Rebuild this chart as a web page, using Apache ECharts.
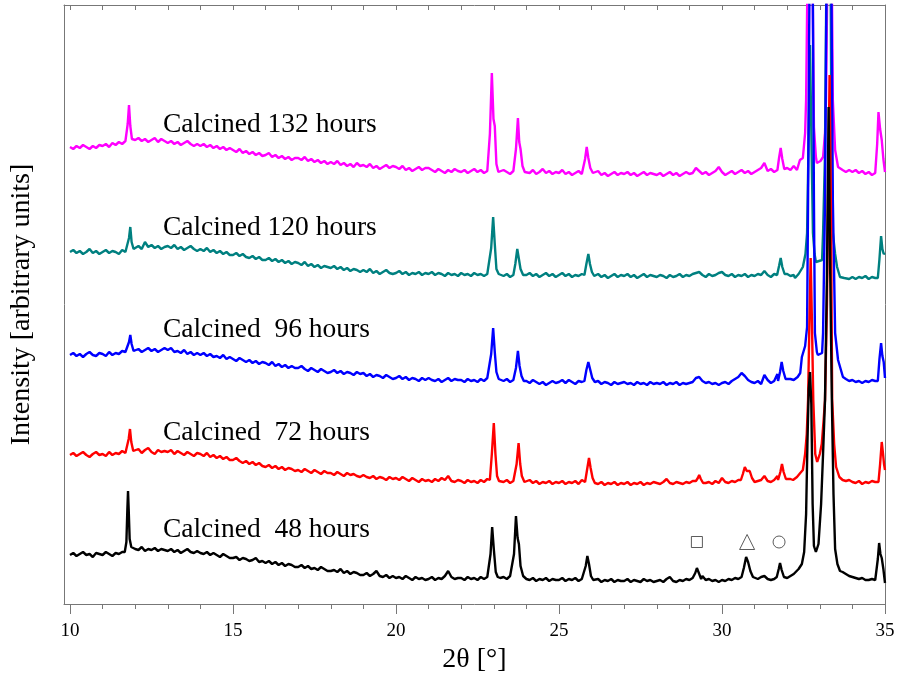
<!DOCTYPE html>
<html>
<head>
    <meta charset="utf-8">
    <title>XRD</title>
    <script src="https://cdn.jsdelivr.net/npm/echarts@6/dist/echarts.min.js"></script>
    <style>
        html, body { margin: 0; padding: 0; background: #fff; }
        #main { width: 899px; height: 684px; }
    </style>
</head>
<body>
<div id="main"></div>
<script type="text/javascript">
// grid of 2theta: 10.0 .. 35.0 step 0.1 (251 points), intensities
var xStart = 10, xStep = 0.1;

var grid48 = [
    49, 51, 48, 50, 52, 49, 50, 47, 51, 50,
    49, 52, 50, 48, 51, 50, 52, 53, 113, 57,
    55, 54, 57, 53, 55, 54, 56, 53, 55, 54,
    53, 55, 52, 54, 51, 53, 55, 52, 51, 53,
    51, 50, 52, 49, 51, 49, 47, 50, 48, 46,
    46, 47, 44, 46, 45, 43, 44, 46, 42, 43,
    41, 43, 40, 42, 39, 41, 38, 40, 39, 37,
    37, 39, 36, 38, 35, 36, 34, 37, 35, 33,
    33, 34, 32, 35, 31, 33, 30, 32, 31, 29,
    29, 31, 28, 30, 33, 28, 27, 29, 26, 28,
    26, 27, 25, 28, 26, 24, 27, 25, 26, 24,
    25, 27, 24, 26, 25, 28, 33, 27, 25, 26,
    26, 24, 27, 25, 26, 24, 27, 25, 27, 50,
    55, 28, 26, 27, 25, 28, 50, 64, 38, 27,
    25, 24, 26, 23, 25, 24, 26, 23, 25, 24,
    24, 26, 23, 25, 24, 26, 23, 25, 40, 40,
    26, 23, 25, 22, 24, 23, 25, 22, 24, 23,
    23, 25, 22, 24, 23, 22, 25, 23, 24, 22,
    23, 24, 22, 25, 27, 23, 22, 24, 23, 25,
    24, 26, 30, 36, 28, 24, 25, 23, 24, 22,
    24, 23, 25, 24, 26, 25, 30, 46, 38, 27,
    26, 25, 27, 28, 25, 24, 25, 35, 33, 27,
    26, 28, 30, 33, 37, 50, 150, 232, 57, 52,
    52, 150, 300, 480, 180, 45, 33, 32, 30, 28,
    27, 26, 25, 26, 24, 24, 25, 24, 61, 45,
    21
];
var peaks48 = [
    [[11.68, 52], [11.73, 62], [11.76, 95], [11.78, 113], [11.8, 95], [11.83, 65], [11.88, 57]],
    [[22.84, 28], [22.9, 50], [22.95, 77], [23.0, 55], [23.06, 32], [23.12, 27]],
    [[23.56, 28], [23.62, 50], [23.68, 88], [23.73, 66], [23.77, 60], [23.82, 38], [23.9, 28]],
    [[25.76, 26], [25.82, 38], [25.87, 48], [25.92, 40], [25.98, 28], [26.05, 24]],
    [[29.12, 25], [29.18, 31], [29.23, 36], [29.29, 31], [29.36, 25]],
    [[30.6, 27], [30.67, 36], [30.74, 47], [30.8, 42], [30.87, 33], [30.95, 27]],
    [[31.68, 27], [31.74, 35], [31.78, 41], [31.83, 34], [31.9, 27]],
    [[32.25, 31], [32.35, 35], [32.45, 40], [32.52, 52], [32.58, 90], [32.62, 160], [32.66, 215], [32.7, 232],
     [32.74, 200], [32.78, 100], [32.82, 58], [32.88, 52], [32.96, 60], [33.04, 100], [33.1, 150], [33.16, 204],
     [33.22, 330], [33.27, 497], [33.32, 330], [33.37, 204], [33.42, 110], [33.47, 55], [33.54, 40], [33.62, 33]],
    [[34.72, 26], [34.78, 45], [34.82, 61], [34.86, 50], [34.9, 46], [34.95, 35], [35.0, 21]]
];

var grid72 = [
    149, 151, 148, 150, 152, 149, 147, 150, 152, 149,
    150, 148, 152, 149, 151, 150, 153, 151, 175, 155,
    152, 155, 151, 154, 156, 152, 150, 154, 152, 153,
    152, 154, 150, 153, 151, 149, 152, 150, 148, 151,
    150, 148, 151, 147, 149, 146, 148, 145, 147, 144,
    144, 146, 143, 141, 143, 140, 142, 139, 141, 138,
    137, 139, 136, 138, 135, 137, 134, 136, 135, 133,
    134, 132, 135, 133, 131, 134, 132, 130, 133, 131,
    131, 129, 132, 130, 128, 131, 129, 130, 128, 127,
    129, 127, 126, 128, 125, 127, 126, 124, 127, 125,
    126, 124, 127, 125, 123, 126, 124, 122, 125, 123,
    124, 122, 125, 123, 126, 124, 128, 123, 122, 124,
    123, 121, 124, 122, 123, 121, 124, 122, 125, 150,
    160, 125, 123, 122, 124, 121, 123, 140, 150, 126,
    122, 124, 121, 123, 120, 122, 121, 123, 120, 122,
    121, 123, 120, 122, 121, 123, 120, 124, 130, 140,
    128, 121, 120, 122, 119, 121, 120, 122, 119, 121,
    120, 122, 119, 121, 120, 122, 119, 121, 120, 122,
    121, 120, 122, 125, 121, 120, 122, 121, 120, 122,
    121, 123, 125, 129, 124, 121, 122, 120, 123, 121,
    126, 122, 121, 123, 122, 124, 128, 137, 133, 125,
    122, 123, 124, 128, 123, 122, 124, 128, 140, 126,
    124, 125, 124, 127, 131, 134, 170, 346, 204, 142,
    150, 185, 300, 529, 204, 137, 127, 124, 123, 124,
    122, 121, 123, 120, 122, 121, 123, 122, 121, 162,
    134
];
var peaks72 = [
    [[11.74, 152], [11.8, 165], [11.84, 175], [11.88, 162], [11.94, 153]],
    [[22.88, 124], [22.94, 150], [23.0, 181], [23.05, 150], [23.1, 128], [23.16, 123]],
    [[23.64, 123], [23.7, 140], [23.76, 161], [23.81, 140], [23.86, 128], [23.94, 122]],
    [[25.8, 122], [25.86, 134], [25.92, 146], [25.97, 136], [26.03, 126], [26.1, 121]],
    [[29.2, 123], [29.26, 126], [29.3, 129], [29.35, 125], [29.42, 121]],
    [[30.58, 124], [30.64, 130], [30.7, 137], [30.76, 133], [30.85, 133], [30.92, 126], [31.0, 122]],
    [[31.72, 124], [31.79, 132], [31.84, 140], [31.89, 132], [31.96, 125]],
    [[32.18, 124], [32.3, 127], [32.4, 131], [32.48, 134], [32.55, 150], [32.6, 170], [32.64, 204], [32.68, 280],
     [32.72, 346], [32.76, 280], [32.8, 204], [32.86, 150], [32.92, 142], [33.0, 150], [33.06, 160], [33.12, 185],
     [33.16, 204], [33.22, 300], [33.26, 420], [33.3, 529], [33.34, 400], [33.38, 204], [33.44, 160], [33.5, 137],
     [33.6, 127], [33.7, 124]],
    [[34.8, 122], [34.85, 140], [34.9, 162], [34.94, 150], [34.97, 140], [35.0, 134]]
];

var grid96 = [
    249, 251, 248, 250, 247, 250, 252, 249, 248, 251,
    250, 248, 252, 249, 251, 250, 253, 252, 269, 256,
    253, 255, 252, 254, 256, 253, 255, 252, 254, 256,
    254, 256, 252, 253, 251, 254, 250, 252, 249, 251,
    249, 251, 248, 250, 247, 248, 246, 249, 245, 247,
    245, 243, 246, 244, 242, 244, 241, 243, 240, 242,
    241, 239, 242, 238, 240, 237, 239, 236, 238, 236,
    236, 238, 235, 233, 236, 234, 232, 235, 233, 231,
    232, 234, 231, 233, 230, 232, 231, 229, 232, 230,
    231, 228, 230, 227, 229, 228, 226, 229, 227, 225,
    226, 228, 225, 227, 224, 226, 225, 223, 226, 224,
    226, 224, 223, 225, 222, 224, 226, 223, 225, 224,
    224, 222, 225, 223, 224, 222, 225, 223, 226, 260,
    250, 226, 224, 223, 225, 222, 224, 235, 248, 230,
    223, 221, 224, 222, 220, 222, 219, 221, 223, 221,
    222, 224, 221, 224, 222, 220, 223, 222, 232, 240,
    226, 221, 223, 220, 222, 221, 219, 222, 220, 221,
    222, 220, 221, 219, 222, 220, 221, 219, 222, 220,
    221, 220, 222, 219, 221, 220, 222, 219, 221, 220,
    221, 222, 226, 227, 223, 221, 222, 220, 221, 219,
    221, 222, 220, 223, 225, 227, 231, 228, 224, 222,
    221, 223, 220, 229, 224, 221, 223, 230, 242, 228,
    224, 225, 224, 227, 231, 247, 277, 800, 271, 249,
    251, 271, 700, 900, 404, 271, 244, 227, 225, 223,
    224, 222, 223, 221, 223, 222, 224, 223, 222, 261,
    226
];
var peaks96 = [
    [[11.76, 252], [11.81, 262], [11.85, 269], [11.89, 260], [11.95, 253]],
    [[22.86, 224], [22.92, 250], [22.98, 276], [23.03, 252], [23.08, 232], [23.15, 225]],
    [[23.62, 224], [23.68, 236], [23.74, 253], [23.79, 238], [23.85, 228], [23.92, 223]],
    [[25.78, 223], [25.84, 234], [25.9, 242], [25.96, 234], [26.02, 226], [26.1, 222]],
    [[31.72, 223], [31.78, 232], [31.83, 242], [31.88, 233], [31.95, 225]],
    [[32.24, 224], [32.32, 227], [32.4, 231], [32.45, 247], [32.55, 258], [32.61, 277], [32.64, 404], [32.69, 650],
     [32.73, 800], [32.78, 650], [32.82, 404], [32.85, 271], [32.91, 252], [32.94, 249], [33.07, 251], [33.1, 271],
     [33.16, 404], [33.22, 700], [33.28, 900], [33.34, 700], [33.4, 404], [33.47, 271], [33.56, 244], [33.71, 227]],
    [[34.78, 223], [34.83, 245], [34.88, 261], [34.92, 248], [34.96, 242], [35.0, 226]]
];

var grid120 = [
    352, 354, 351, 353, 350, 352, 355, 351, 353, 350,
    352, 354, 351, 353, 352, 350, 354, 352, 377, 356,
    356, 358, 355, 362, 357, 359, 356, 358, 355, 357,
    358, 356, 359, 355, 357, 354, 356, 358, 355, 353,
    355, 353, 356, 352, 354, 351, 353, 350, 352, 349,
    349, 351, 348, 350, 347, 346, 348, 345, 347, 344,
    344, 346, 343, 345, 342, 344, 341, 343, 340, 342,
    341, 339, 342, 338, 340, 337, 339, 336, 338, 337,
    336, 338, 335, 337, 334, 336, 333, 335, 334, 332,
    334, 332, 335, 331, 333, 330, 332, 334, 331, 330,
    331, 333, 330, 332, 329, 331, 330, 332, 329, 331,
    330, 332, 329, 331, 330, 328, 331, 329, 330, 328,
    331, 329, 330, 328, 331, 329, 330, 328, 330, 360,
    370, 331, 329, 328, 330, 327, 329, 340, 345, 332,
    329, 331, 328, 330, 327, 329, 331, 328, 330, 327,
    329, 331, 328, 330, 327, 329, 328, 330, 338, 345,
    333, 328, 330, 327, 329, 326, 328, 330, 327, 329,
    328, 330, 327, 329, 326, 328, 330, 327, 329, 328,
    327, 329, 328, 326, 329, 327, 328, 330, 327, 329,
    328, 330, 331, 332, 329, 327, 330, 328, 329, 331,
    332, 329, 328, 330, 327, 329, 328, 330, 327, 329,
    328, 330, 329, 333, 329, 327, 330, 334, 346, 336,
    330, 328, 329, 330, 331, 337, 371, 559, 371, 341,
    343, 371, 700, 900, 371, 337, 327, 326, 327, 325,
    327, 325, 327, 326, 328, 325, 327, 326, 350, 368,
    351
];
var peaks120 = [
    [[11.76, 353], [11.81, 366], [11.85, 377], [11.89, 362], [11.95, 355]],
    [[22.86, 330], [22.92, 356], [22.98, 387], [23.03, 360], [23.08, 335], [23.15, 330]],
    [[23.6, 329], [23.66, 340], [23.72, 355], [23.77, 345], [23.82, 335], [23.9, 329]],
    [[25.78, 329], [25.84, 340], [25.9, 350], [25.95, 340], [26.01, 332], [26.08, 328]],
    [[31.69, 329], [31.75, 338], [31.8, 346], [31.85, 337], [31.92, 330]],
    [[32.24, 326], [32.35, 330], [32.48, 337], [32.56, 350], [32.61, 371], [32.65, 450], [32.7, 559], [32.75, 450],
     [32.79, 371], [32.84, 350], [32.88, 342], [32.94, 341], [33.07, 344], [33.1, 371], [33.16, 450], [33.22, 700],
     [33.26, 900], [33.32, 700], [33.36, 450], [33.4, 371], [33.47, 350], [33.53, 337], [33.62, 327], [33.75, 326]],
    [[34.78, 326], [34.83, 345], [34.88, 368], [34.92, 355], [34.96, 350], [35.0, 351]]
];

var grid132 = [
    457, 455, 458, 456, 459, 457, 455, 458, 456, 459,
    458, 460, 457, 461, 459, 462, 460, 463, 499, 466,
    464, 466, 463, 465, 462, 464, 466, 462, 465, 463,
    461, 463, 460, 462, 459, 461, 463, 460, 458, 460,
    458, 460, 457, 459, 456, 458, 455, 457, 454, 456,
    454, 452, 455, 451, 453, 450, 452, 449, 451, 448,
    449, 451, 447, 449, 446, 448, 445, 447, 444, 446,
    446, 444, 447, 443, 445, 442, 444, 441, 443, 440,
    442, 440, 443, 439, 441, 438, 440, 437, 441, 438,
    439, 437, 440, 436, 438, 435, 437, 439, 436, 438,
    437, 435, 438, 434, 436, 433, 435, 437, 434, 436,
    436, 434, 432, 435, 433, 431, 434, 432, 435, 433,
    432, 434, 431, 433, 435, 432, 434, 431, 433, 480,
    470, 433, 431, 434, 432, 430, 433, 450, 460, 432,
    433, 431, 434, 430, 432, 435, 431, 433, 430, 432,
    431, 434, 430, 432, 429, 431, 433, 430, 445, 450,
    432, 430, 433, 429, 431, 428, 430, 432, 429, 431,
    430, 432, 429, 431, 428, 430, 432, 429, 431, 430,
    429, 431, 428, 430, 432, 429, 431, 428, 430, 432,
    430, 431, 436, 433, 430, 432, 429, 431, 433, 437,
    432, 429, 431, 433, 430, 432, 434, 431, 433, 430,
    432, 434, 436, 441, 433, 435, 432, 440, 456, 438,
    436, 434, 438, 434, 444, 446, 620, 1000, 477, 441,
    443, 447, 600, 1000, 504, 454, 437, 434, 432, 434,
    432, 434, 431, 433, 430, 432, 429, 431, 492, 464,
    432
];
var peaks132 = [
    [[11.72, 462], [11.77, 480], [11.81, 499], [11.85, 478], [11.9, 465]],
    [[22.82, 433], [22.88, 470], [22.94, 531], [22.99, 485], [23.03, 478], [23.08, 440], [23.14, 432]],
    [[23.62, 432], [23.68, 455], [23.74, 486], [23.78, 462], [23.82, 455], [23.88, 438], [23.95, 432]],
    [[25.74, 431], [25.8, 445], [25.85, 457], [25.9, 446], [25.96, 436], [26.04, 431]],
    [[31.7, 434], [31.75, 446], [31.8, 456], [31.85, 445], [31.91, 435]],
    [[32.3, 434], [32.39, 444], [32.48, 446], [32.55, 471], [32.58, 504], [32.62, 620], [32.7, 1000], [32.78, 620],
     [32.82, 477], [32.88, 447], [32.91, 441], [33.02, 443], [33.1, 447], [33.16, 471], [33.19, 504], [33.23, 620],
     [33.3, 1000], [33.37, 620], [33.4, 504], [33.47, 454], [33.56, 437], [33.7, 434]],
    [[34.72, 430], [34.76, 460], [34.8, 492], [34.85, 475], [34.9, 464], [34.95, 445], [35.0, 432]]
];

var seriesNames = ['Calcined 132 hours', 'Calcined 120 hours', 'Calcined  96 hours', 'Calcined  72 hours', 'Calcined  48 hours'];
var seriesColors = ['#ff00ff', '#008080', '#0000ff', '#ff0000', '#000000'];
var seriesGrids = [grid132, grid120, grid96, grid72, grid48];
var seriesPeaks = [peaks132, peaks120, peaks96, peaks72, peaks48];
// where the sample names sit (2theta, intensity)
var labelPos = [[12.85, 479], [12.85, 376], [12.85, 274], [12.85, 171], [12.85, 74]];
// phase markers above the 48 h pattern
var markerPos = [[29.23, 62], [30.77, 62], [31.75, 62]];
var markerSymbols = ['rect', 'triangle', 'circle'];
var markerSizes = [11, 15, 12];

var majorTicks = [10, 15, 20, 25, 30, 35];
var minorTicks = [];
for (var t = 10; t <= 35; t++) minorTicks.push(t);

function merge(grid, groups) {
    var pts = [];
    grid.forEach(function (v, i) {
        var x = Math.round((xStart + i * xStep) * 100) / 100;
        var inside = groups.some(function (g) {
            return x >= g[0][0] && x <= g[g.length - 1][0];
        });
        if (!inside) pts.push([x, v]);
    });
    groups.forEach(function (g) {
        g.forEach(function (p) { pts.push(p); });
    });
    pts.sort(function (a, b) { return a[0] - b[0]; });
    return pts;
}

var font = 'Liberation Serif';
var frame = '#777777';
var myChart = echarts.init(document.getElementById('main'));

var series = seriesNames.map(function (name, i) {
    return {
        name: name,
        type: 'line',
        data: merge(seriesGrids[i], seriesPeaks[i]),
        showSymbol: false,
        symbol: 'none',
        clip: true,
        z: 2 + i,
        lineStyle: { color: seriesColors[i], width: 2.4 },
        itemStyle: { color: seriesColors[i] }
    };
});
series.push({
    type: 'scatter',
    data: markerPos.map(function (p, i) {
        return { value: p, symbol: markerSymbols[i], symbolSize: markerSizes[i] };
    }),
    itemStyle: { color: 'rgba(0,0,0,0)', borderColor: '#333', borderWidth: 1 },
    z: 10
});

var option = {
    animation: false,
    backgroundColor: '#ffffff',
    grid: { left: 64, right: 14, top: 5, bottom: 80 },
    xAxis: [
        {
            type: 'value', min: 9.816, max: 35, position: 'bottom',
            name: '2θ [°]', nameLocation: 'middle', nameGap: 42,
            nameTextStyle: { fontFamily: font, fontSize: 28, color: '#000' },
            axisLine: { lineStyle: { color: frame, width: 1 } },
            axisTick: { customValues: minorTicks, length: 5, inside: false, lineStyle: { color: frame } },
            axisLabel: { customValues: majorTicks, margin: 18, fontFamily: font, fontSize: 19, color: '#000' },
            splitLine: { show: false }
        },
        {
            type: 'value', min: 9.816, max: 35, position: 'bottom',
            axisLine: { show: false },
            axisTick: { customValues: majorTicks, length: 10, lineStyle: { color: frame } },
            axisLabel: { show: false },
            splitLine: { show: false }
        },
        {
            type: 'value', min: 9.816, max: 35, position: 'top',
            axisLine: { lineStyle: { color: frame, width: 1 } },
            axisTick: { customValues: minorTicks, length: 5, inside: true, lineStyle: { color: frame } },
            axisLabel: { show: false },
            splitLine: { show: false }
        }
    ],
    yAxis: [
        {
            type: 'value', min: 0, max: 599,
            name: 'Intensity [arbitrary units]', nameLocation: 'middle', nameGap: 28,
            nameTextStyle: { fontFamily: font, fontSize: 28, color: '#000' },
            axisLine: { show: true, lineStyle: { color: frame, width: 1 } },
            axisTick: { show: false },
            axisLabel: { show: false },
            splitLine: { show: false }
        },
        {
            type: 'value', min: 0, max: 599, position: 'right',
            axisLine: { show: true, lineStyle: { color: frame, width: 1 } },
            axisTick: { show: false },
            axisLabel: { show: false },
            splitLine: { show: false }
        }
    ],
    series: series
};
myChart.setOption(option);

// sample names, placed in data coordinates
var texts = seriesNames.map(function (name, i) {
    var p = myChart.convertToPixel({ xAxisIndex: 0, yAxisIndex: 0 }, labelPos[i]);
    return {
        type: 'text',
        x: p[0], y: p[1],
        z: 20,
        style: {
            text: name,
            font: '27.5px "' + font + '"',
            fill: '#000',
            textAlign: 'left',
            textVerticalAlign: 'middle'
        }
    };
});
myChart.setOption({ graphic: texts });
</script>
</body>
</html>
